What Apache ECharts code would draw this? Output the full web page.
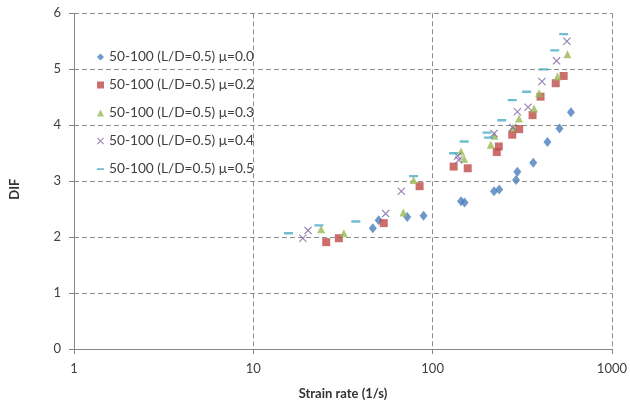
<!DOCTYPE html>
<html>
<head>
<meta charset="utf-8">
<script src="https://cdn.jsdelivr.net/npm/echarts@6/dist/echarts.min.js"></script>
<style>
  html, body { margin: 0; padding: 0; background: #fff; }
  #chart { width: 630px; height: 405px; }
</style>
</head>
<body>
<div id="chart"></div>
<script>
// [strain rate (1/s), DIF]
var mu00 = [[46.4,2.16],[50,2.30],[72.2,2.36],[89,2.38],[144,2.64],[150.7,2.62],[220,2.82],[235,2.85],[292,3.02],[297,3.17],[364,3.33],[437,3.70],[510,3.94],[591,4.23]];
var mu02 = [[25.5,1.91],[30,1.98],[53.4,2.25],[84.6,2.91],[131,3.26],[157,3.23],[228,3.52],[234,3.62],[278,3.83],[304,3.93],[361,4.18],[400,4.51],[486,4.75],[538,4.88]];
var mu03 = [[23.9,2.14],[32,2.07],[68.7,2.44],[78.3,3.02],[144,3.53],[150,3.40],[211,3.65],[221,3.81],[280,3.96],[303,4.12],[368,4.30],[393,4.57],[497,4.87],[565,5.27]];
var mu04 = [[18.9,1.98],[20.2,2.12],[54.7,2.42],[66.9,2.82],[138,3.45],[140,3.38],[220,3.85],[280,3.96],[297,4.24],[341,4.32],[407,4.78],[491,5.15],[561,5.50]];
var mu05 = [[15.7,2.07],[23.2,2.21],[37.3,2.28],[78.3,3.09],[131,3.50],[150,3.71],[201,3.87],[205,3.78],[243,4.09],[278,4.45],[334,4.60],[417,5.00],[480,5.34],[538,5.63]];

var names = ['50-100 (L/D=0.5) μ=0.0', '50-100 (L/D=0.5) μ=0.2', '50-100 (L/D=0.5) μ=0.3', '50-100 (L/D=0.5) μ=0.4', '50-100 (L/D=0.5) μ=0.5'];
var colors = ['#4a7ebb', '#be4b48', '#98b954', '#7d60a0', '#4bacc6'];

// X made of two thin bars; dash with tiny corner points so the box stays square
var crossPath = 'path://M0,1L1,0L5,4L9,0L10,1L6,5L10,9L9,10L5,6L1,10L0,9L4,5Z';
var dashPath = 'path://M0,0L0.05,0L0,0.05Z M0,3.8L10,3.8L10,6.4L0,6.4Z M10,10L9.95,10L10,9.95Z';
var font = 'Lato, "Open Sans", sans-serif';
var gridLine = { show: true, lineStyle: { color: '#8c8c8c', type: [5, 3], width: 1 } };

var chart = echarts.init(document.getElementById('chart'));
chart.setOption({
  backgroundColor: '#ffffff',
  animation: false,
  color: colors,
  textStyle: { fontFamily: font },
  grid: { left: 71, right: 17.5, top: 13.3, bottom: 55.5 },
  legend: {
    orient: 'vertical',
    left: 92,
    top: 45,
    itemWidth: 7,
    itemHeight: 7,
    itemGap: 14,
    textStyle: { fontFamily: font, fontSize: 13.7, color: '#404040', lineHeight: 14, height: 14 },
    data: names
  },
  xAxis: {
    type: 'log',
    logBase: 10,
    min: 1,
    max: 1000,
    name: 'Strain rate (1/s)',
    nameLocation: 'middle',
    nameGap: 38,
    nameTextStyle: { fontFamily: font, fontSize: 13, fontWeight: 'bold', color: '#333' },
    axisLine: { lineStyle: { color: '#868686' } },
    axisTick: { show: true, length: 5, lineStyle: { color: '#868686' } },
    axisLabel: { fontFamily: font, fontSize: 13, color: '#404040', margin: 13,
      formatter: function (v) { return String(v); } },
    splitLine: gridLine
  },
  yAxis: {
    type: 'value',
    min: 0,
    max: 6,
    interval: 1,
    name: 'DIF',
    nameLocation: 'middle',
    nameGap: 53,
    nameTextStyle: { fontFamily: font, fontSize: 13, fontWeight: 'bold', color: '#333', padding: [0, 16, 0, 0] },
    axisLine: { show: true, lineStyle: { color: '#868686' } },
    axisTick: { show: true, length: 5, lineStyle: { color: '#868686' } },
    axisLabel: { fontFamily: font, fontSize: 13, color: '#404040', margin: 13 },
    splitLine: gridLine
  },
  series: [
    { name: names[0], type: 'scatter', data: mu00, symbol: 'diamond', symbolSize: [8, 10] },
    { name: names[1], type: 'scatter', data: mu02, symbol: 'rect', symbolSize: 8 },
    { name: names[2], type: 'scatter', data: mu03, symbol: 'triangle', symbolSize: 8 },
    { name: names[3], type: 'scatter', data: mu04, symbol: crossPath, symbolSize: 8 },
    { name: names[4], type: 'scatter', data: mu05, symbol: dashPath, symbolSize: 9 }
  ]
});
</script>
</body>
</html>
